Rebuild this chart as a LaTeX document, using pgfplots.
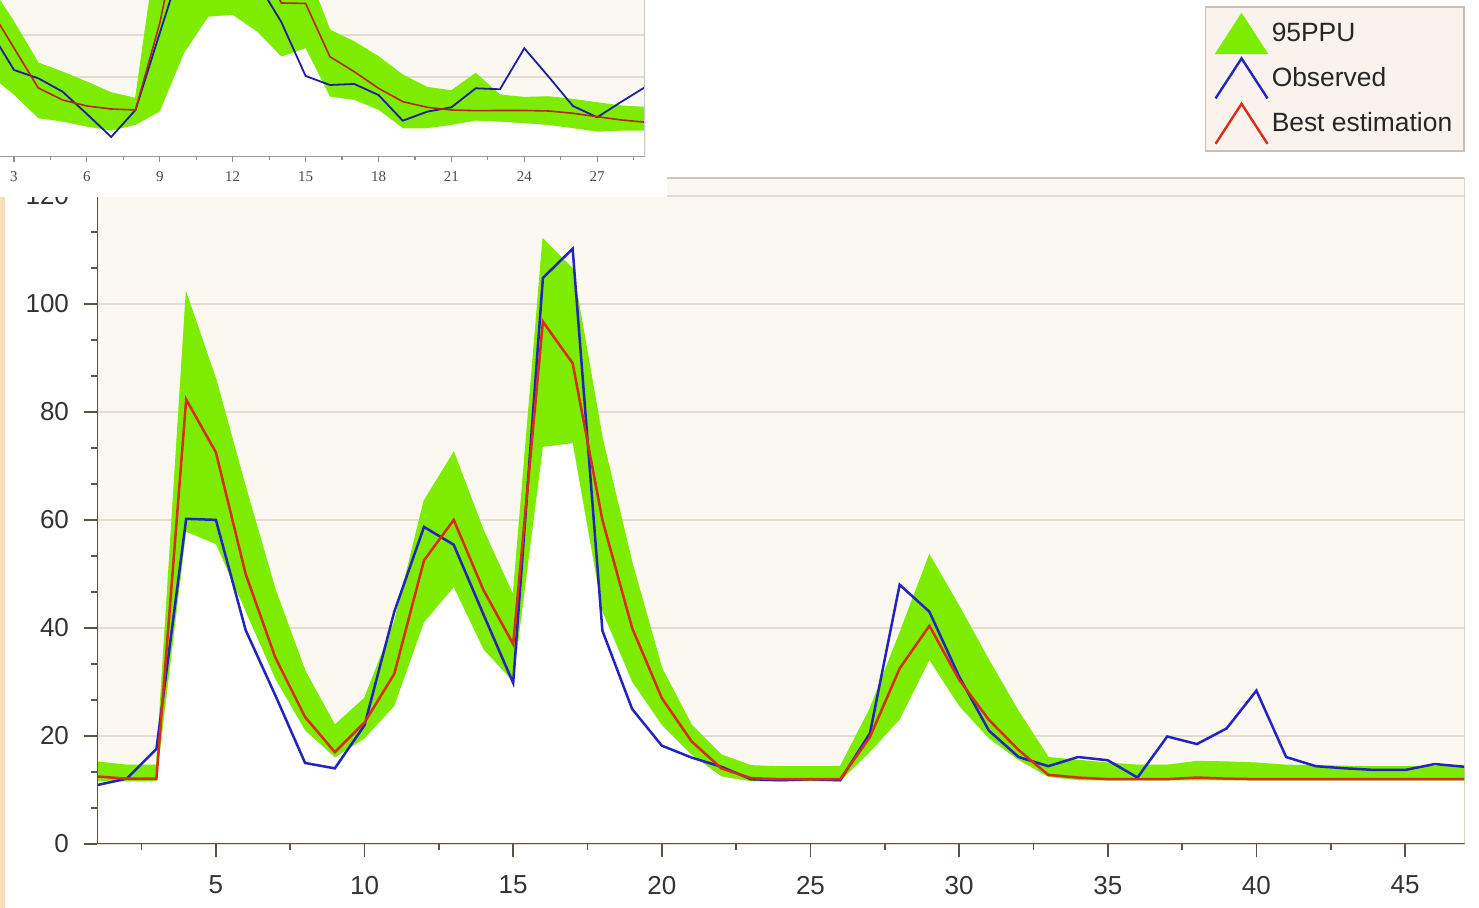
\documentclass[border=0pt]{standalone}
\usepackage{pgfplots}
\usepackage{pgfplotstable}
\pgfplotsset{compat=1.18}
\usepackage{fontspec}
\setmainfont{Liberation Sans}
\newfontfamily\insetfont{Liberation Serif}

\definecolor{ppu}{RGB}{126,236,0}
\definecolor{obs}{RGB}{35,35,190}
\definecolor{best}{RGB}{215,45,25}
\definecolor{plotbg}{RGB}{251,248,241}
\definecolor{gridc}{RGB}{226,219,207}
\definecolor{axisc}{RGB}{95,82,66}
\definecolor{framec}{RGB}{205,198,186}
\definecolor{legbg}{RGB}{250,243,237}
\definecolor{legborder}{RGB}{200,192,184}
\definecolor{stripe}{RGB}{249,222,186}

\pgfplotstableread{
x upper lower best obs
1 15.2 11.6 12.5 10.9
2 14.6 11.6 12.1 12.1
3 14.6 11.6 12.1 17.6
4 102 57.8 82.3 60.2
5 86 55.5 72.5 60.0
6 66 43 50 39.6
7 47 30.5 34.5 27.5
8 32 21 23.5 15.0
9 22 16 17 14.0
10 27 19.5 22.5 22.0
11 41 25.5 31.5 43.0
12 63.5 41 52.5 58.7
13 72.5 47.5 60 55.4
14 58 36 47 42.5
15 46 30 37 29.8
16 112 73.5 96.7 104.8
17 106.5 74.2 89 110.2
18 75 43 60 39.5
19 52 30 40 25.0
20 32.5 22 27 18.2
21 22 16.5 19 16.0
22 16.5 12.5 14 14.3
23 14.5 11.6 12.2 12.0
24 14.3 11.6 12 11.8
25 14.3 11.6 12 12.0
26 14.3 11.6 12 11.8
27 25 17 19.8 20.5
28 39 23 32.5 48.0
29 53.5 34 40.4 43.0
30 44 25.5 30.4 31.0
31 34 19.5 23 21.0
32 24.5 15.5 17.4 16.1
33 16 12.4 12.8 14.4
34 15.5 11.8 12.3 16.1
35 15 11.8 12 15.5
36 14.6 11.8 12 12.3
37 14.6 11.8 12 19.9
38 15.3 11.8 12.3 18.5
39 15.2 11.8 12.1 21.4
40 15 11.8 12 28.4
41 14.6 11.8 12 16.1
42 14.5 11.8 12 14.4
43 14.4 11.8 12 14.0
44 14.3 11.8 12 13.7
45 14.3 11.8 12 13.7
46 14.3 11.8 12 14.8
47 14.3 11.8 12 14.3
}\maindata

\pgfplotstableread{
x upper lower best obs
2 172 82 149 127
3 135 62 109 87
4 94 38.7 69 78.7
5 85 35.3 57 65.3
6 75 30.3 51 43
7 64.3 26.3 48 20
8 58.7 32 47 47
9 230 45.3 134 124
10 300 103.7 250 200
11 300 140.3 280 240
12 300 142 280 240
13 300 125.3 200 175
14 250 100.3 154 135
15 190 108.7 153.5 81
16 127 60.3 100.3 72
17 115.3 57 85.3 73
18 100.3 47 68.7 62
19 82 28.7 55.3 36.3
20 69.7 28.7 49.7 45.3
21 66.3 32 47 49.7
22 83.7 36.3 46.3 68.7
23 62 35.3 46.5 67.7
24 59.7 33.7 46.5 108.7
25 60.3 32 46 80.3
26 57.7 28.7 43.7 51
27 54.3 25.3 40.3 39.7
28 51 26.3 37 55.3
29 49.7 26.3 34.7 70.3
}\insetdata

\begin{document}
\begin{tikzpicture}
\useasboundingbox (0pt,0pt) rectangle (739.5pt,454pt);
% main chart
\begin{axis}[
  at={(48.5pt,32pt)}, anchor=south west,
  scale only axis, width=683.75pt, height=333pt,
  xmin=1, xmax=47, ymin=0, ymax=123.3,
  axis background/.style={fill=plotbg},
  axis line style={draw opacity=0},
  xtick={5,10,...,45}, minor xtick={2.5,7.5,...,45},
  ytick={0,20,...,120}, minor y tick num=2,
  tick pos=left,
  tick align=outside,
  major tick length=6.5pt, minor tick length=3pt,
  tick style={color=axisc, line width=0.8pt},
  ymajorgrids, major grid style={gridc, line width=1pt},
  /pgf/number format/assume math mode=true,
  ticklabel style={font=\fontsize{13}{13}\selectfont, text=black!80},
  xticklabel shift=6pt, yticklabel shift=4pt,
  clip=true,
  legend style={at={(1.0004,1.0393)}, anchor=south east,
    draw=legborder, fill=legbg, line width=0.8pt,
    font=\fontsize{13.2}{15}\selectfont, text=black!85,
    inner xsep=4.5pt, inner ysep=3pt, row sep=1.5pt,
    nodes={inner sep=1.5pt}},
  legend cell align=left,
]
\addplot[draw=ppu, fill=ppu, line width=0.5pt,
  legend image code/.code={\fill[ppu] (0pt,-10pt) -- (13pt,10pt) -- (26pt,-10pt) -- cycle;}]
  table[x=x,y=upper]{\maindata} \closedcycle;
\addlegendentry{95PPU}
\addplot[draw=none, fill=white, forget plot] table[x=x,y=lower]{\maindata} \closedcycle;
\addplot[obs, line width=1.25pt,
  legend image code/.code={\draw[obs, line width=1.2pt] (0pt,-10pt) -- (13pt,10pt) -- (26pt,-10pt);}]
  table[x=x,y=obs]{\maindata};
\addlegendentry{Observed}
\addplot[best, line width=1.25pt,
  legend image code/.code={\draw[best, line width=1.2pt] (0pt,-10pt) -- (13pt,10pt) -- (26pt,-10pt);}]
  table[x=x,y=best]{\maindata};
\addlegendentry{Best estimation}
\draw[framec, line width=1pt] (rel axis cs:0,1) -- (rel axis cs:1,1) -- (rel axis cs:1,0);
\draw[axisc, line width=1.3pt] (rel axis cs:0,1) -- (rel axis cs:0,0) -- (rel axis cs:1,0);
\end{axis}
% white area of the inset picture and left stripe
\fill[white] (0pt,355.5pt) rectangle (333.5pt,454pt);
\fill[stripe] (0pt,0pt) rectangle (2.5pt,355.5pt);
% inset chart
\begin{axis}[
  at={(0pt,375.5pt)}, anchor=south west,
  scale only axis, width=322.5pt, height=78.5pt,
  xmin=2.424, xmax=28.967, ymin=0, ymax=157,
  axis background/.style={fill=plotbg},
  axis line style={draw opacity=0},
  xtick={3,6,...,27}, minor xtick={4.5,7.5,...,28.5},
  ytick={38,80,122}, yticklabels={},
  y tick style={draw=none},
  tick pos=left,
  tick align=outside,
  major tick length=2.5pt, minor tick length=1.5pt,
  x tick style={color=black!45, line width=0.6pt},
  ymajorgrids, major grid style={gridc, line width=0.8pt},
  /pgf/number format/assume math mode=true,
  typeset ticklabels with strut,
  xticklabel style={font=\insetfont\fontsize{7.5}{7.5}\selectfont, text=black!70},
  xticklabel shift=1pt,
]
\addplot[draw=ppu, fill=ppu, line width=0.4pt] table[x=x,y=upper]{\insetdata} \closedcycle;
\addplot[draw=none, fill=white] table[x=x,y=lower]{\insetdata} \closedcycle;
\addplot[obs!85!black, line width=0.9pt] table[x=x,y=obs]{\insetdata};
\addplot[best!85!black, line width=0.8pt] table[x=x,y=best]{\insetdata};
\draw[black!20, line width=0.6pt] (rel axis cs:1,0) -- (rel axis cs:1,1);
\draw[black!40, line width=0.9pt] (rel axis cs:0,0) -- (rel axis cs:1,0);
\end{axis}
\end{tikzpicture}
\end{document}
